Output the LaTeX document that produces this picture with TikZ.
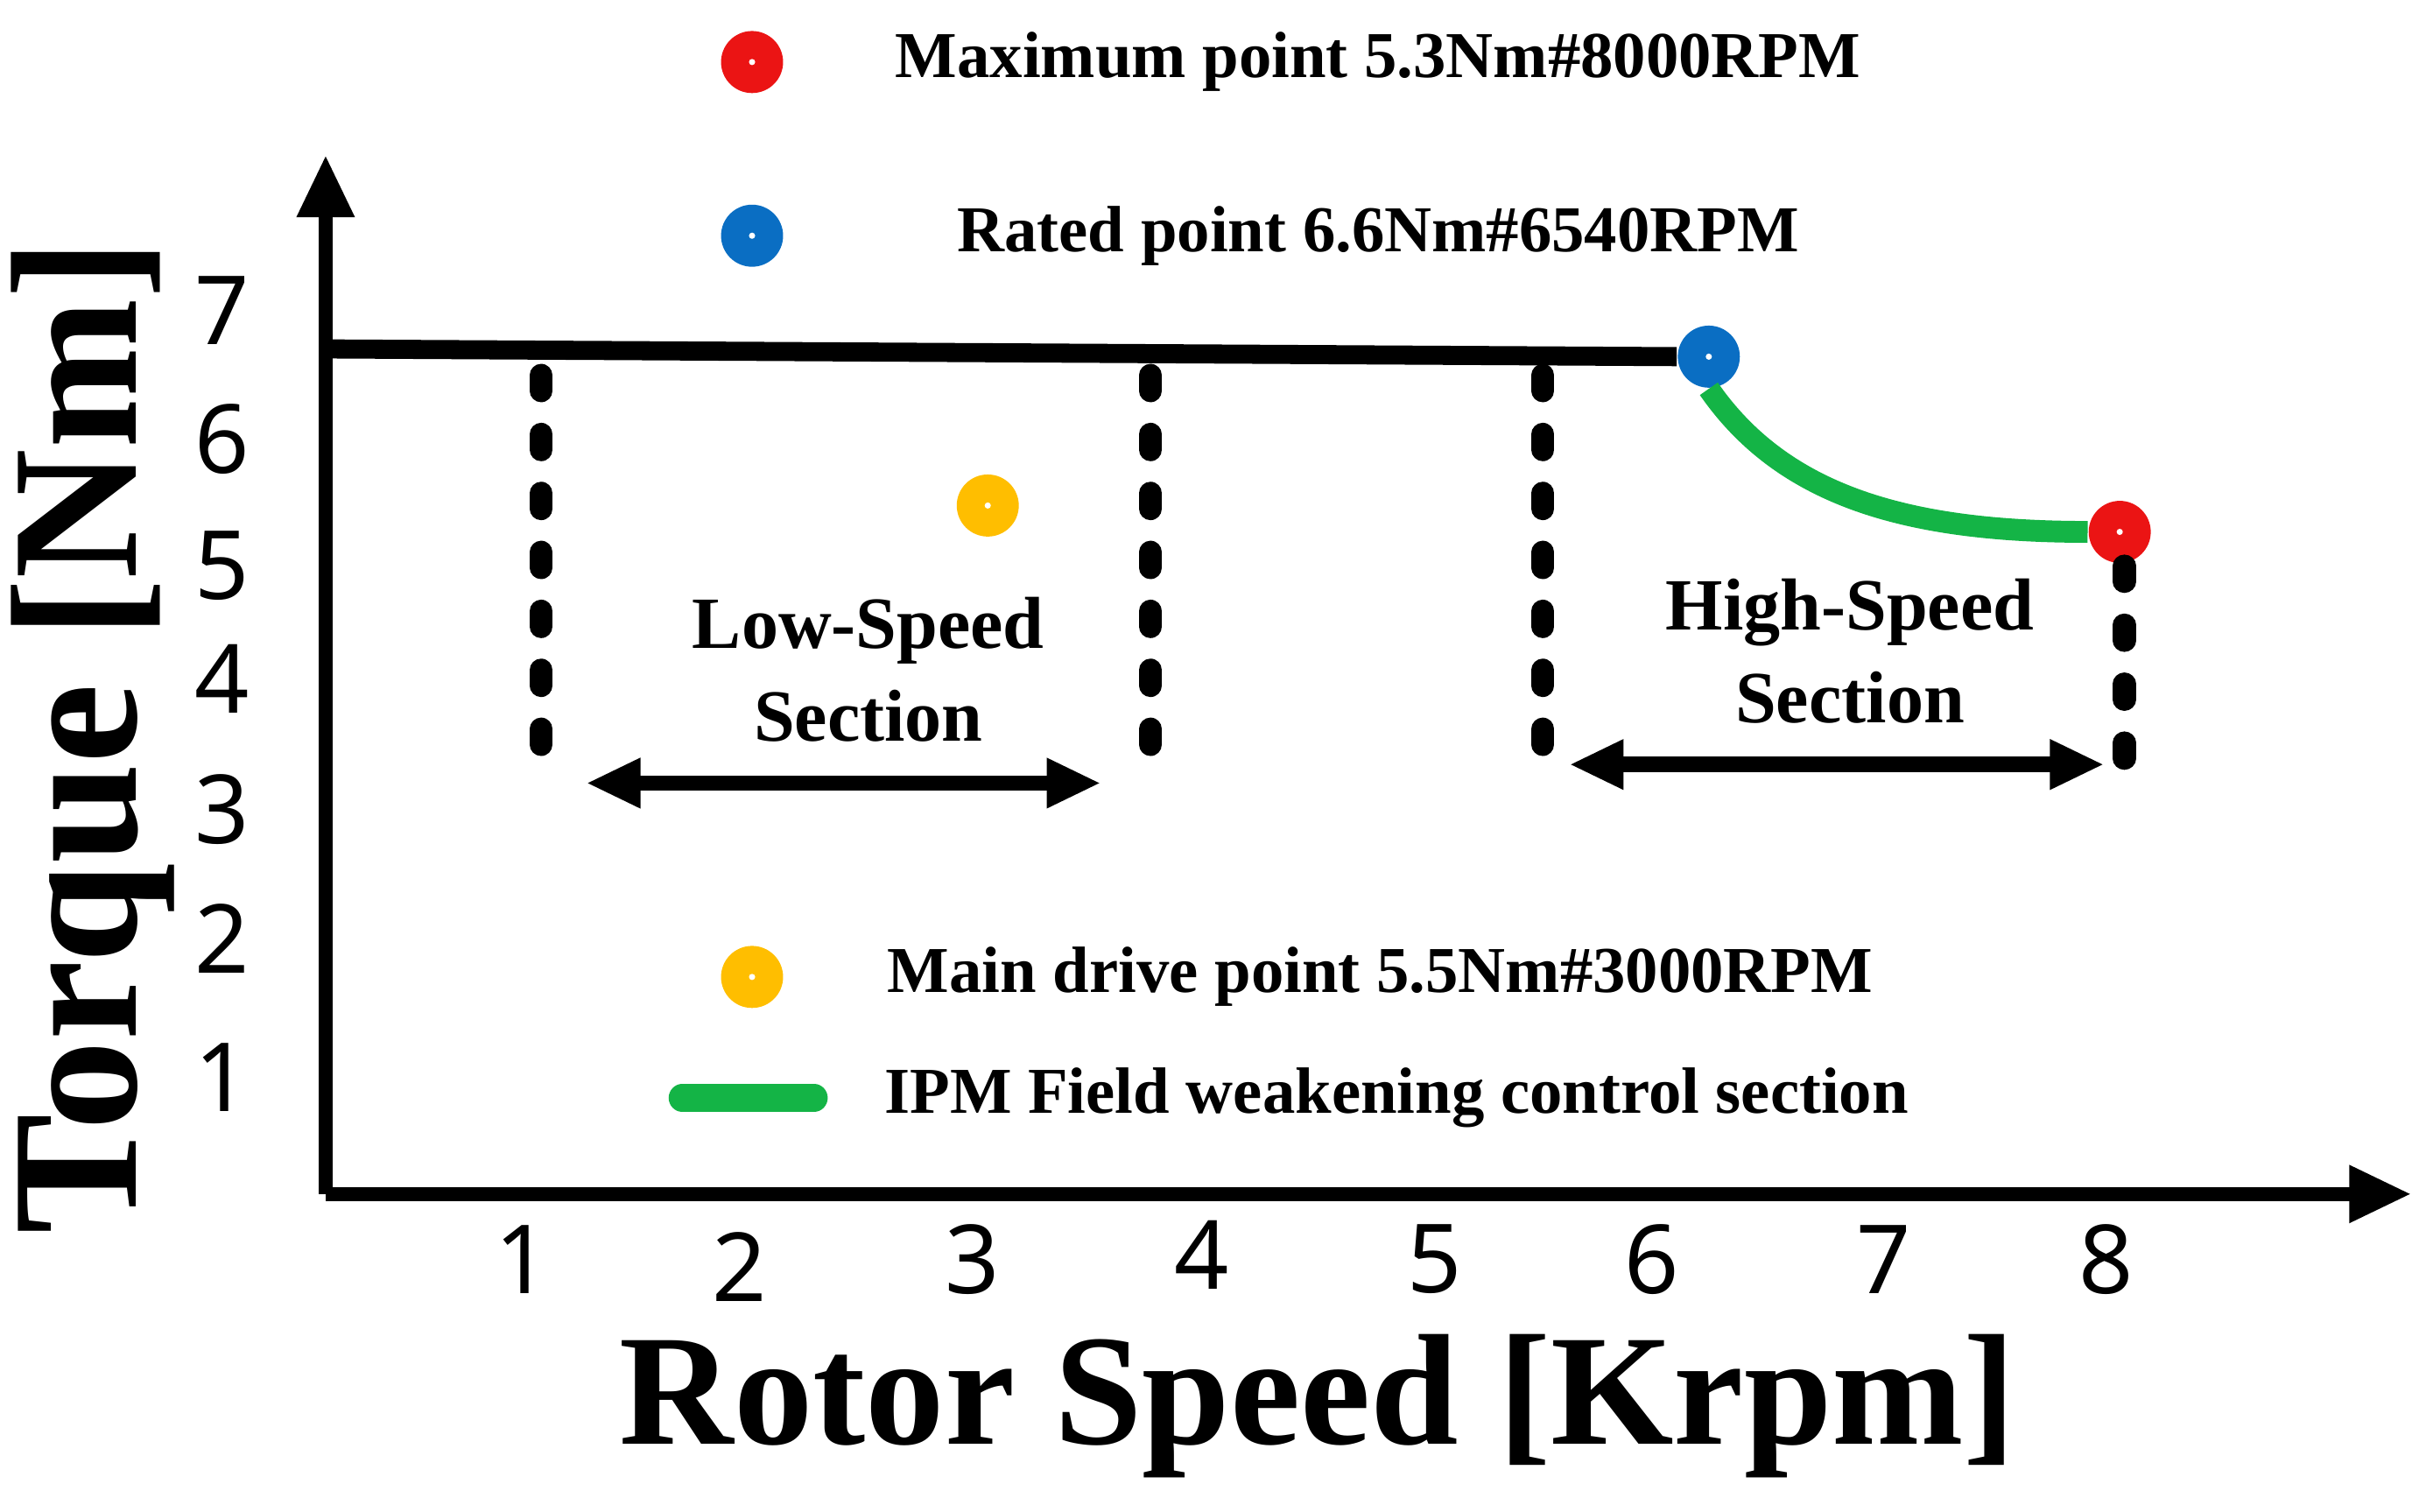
\documentclass[tikz,border=0pt]{standalone}
\usepackage{fontspec}
\setmainfont{Liberation Serif}
\newfontfamily\numf{Noto Sans}
\usetikzlibrary{arrows.meta}
\definecolor{cred}{RGB}{235,20,20}
\definecolor{cblue}{RGB}{10,110,195}
\definecolor{cyel}{RGB}{255,190,0}
\definecolor{cgreen}{RGB}{20,180,70}
\begin{document}
\begin{tikzpicture}[x=0.01cm,y=-0.01cm,
 dot/.style={circle,fill=#1,minimum size=0.4cm,inner sep=0pt,path picture={\fill[white] (path picture bounding box.center) circle (0.02cm);}},
 leg/.style={anchor=west,font=\bfseries\fontsize{12}{14}\selectfont},
 tick/.style={font=\numf\fontsize{17.5}{20}\selectfont},
 dsh/.style={line width=4.2pt,line cap=round,dash pattern=on 0.1cm off 0.28cm},
 dbl/.style={line width=2.8pt,{Triangle[length=0.35cm,width=0.3cm]}-{Triangle[length=0.35cm,width=0.3cm]}},
 sec/.style={align=center,font=\bfseries\fontsize{13.5}{17}\selectfont}]
\useasboundingbox (0,0) rectangle (1560,975);
\coordinate (o) at (210,770);
\coordinate (ytip) at (210,100);
\coordinate (xtip) at (1555,770);
\draw[line width=2.5pt,-{Triangle[length=0.4cm,width=0.35cm]}] (o) -- (ytip);
\draw[line width=2.5pt,-{Triangle[length=0.4cm,width=0.35cm]}] (o) -- (xtip);
\coordinate (ls) at (210,225);
\node[dot=cblue] (bl) at (1102,230) {};
\node[dot=cred] (rd) at (1367,343) {};
\node[dot=cyel] (yl) at (637,326) {};
\draw[line width=3.5pt] (ls) -- (bl.west);
\draw[cgreen,line width=4pt] (bl.south) .. controls (1150,320) and (1230,343) .. (rd.west);
\draw[dsh] (349,242) -- (349,505);
\draw[dsh] (742,242) -- (742,505);
\draw[dsh] (995,242) -- (995,505);
\draw[dsh] (1370,365) -- (1370,505);
\coordinate (a1) at (378,505); \coordinate (a2) at (710,505);
\coordinate (b1) at (1012,493); \coordinate (b2) at (1357,493);
\draw[dbl] (a1) -- (a2);
\draw[dbl] (b1) -- (b2);
\node[sec] (lo) at (560,432) {Low-Speed\\Section};
\node[sec] (hi) at (1193,420) {High-Speed\\Section};
\node[dot=cred] (l1) at (485,40) {};
\node[dot=cblue] (l2) at (485,152) {};
\node[dot=cyel] (l3) at (485,630) {};
\coordinate (g1) at (440,708); \coordinate (g2) at (525,708);
\draw[cgreen,line width=5pt,line cap=round] (g1) -- (g2);
\node[leg] at (565,40) {Maximum point 5.3Nm\#8000RPM};
\node[leg] at (605,152) {Rated point 6.6Nm\#6540RPM};
\node[leg] at (560,630) {Main drive point 5.5Nm\#3000RPM};
\node[leg] at (558,708) {IPM Field weakening control section};
\foreach \t/\y in {7/200,6/283,5/365,4/438,3/522,2/605,1/695} \node[tick] at (143,\y) {\t};
\foreach \t/\x/\y in {1/337/812,2/477/817,3/627/812,4/775/809,5/925/812,6/1065/812,7/1215/812,8/1358/812} \node[tick] at (\x,\y) {\t};
\node[rotate=90,font=\bfseries\fontsize{33}{35}\selectfont] at (60,475) {Torque [Nm]};
\node[font=\bfseries\fontsize{29}{32}\selectfont] at (850,907) {Rotor Speed [Krpm]};
\end{tikzpicture}
\end{document}
